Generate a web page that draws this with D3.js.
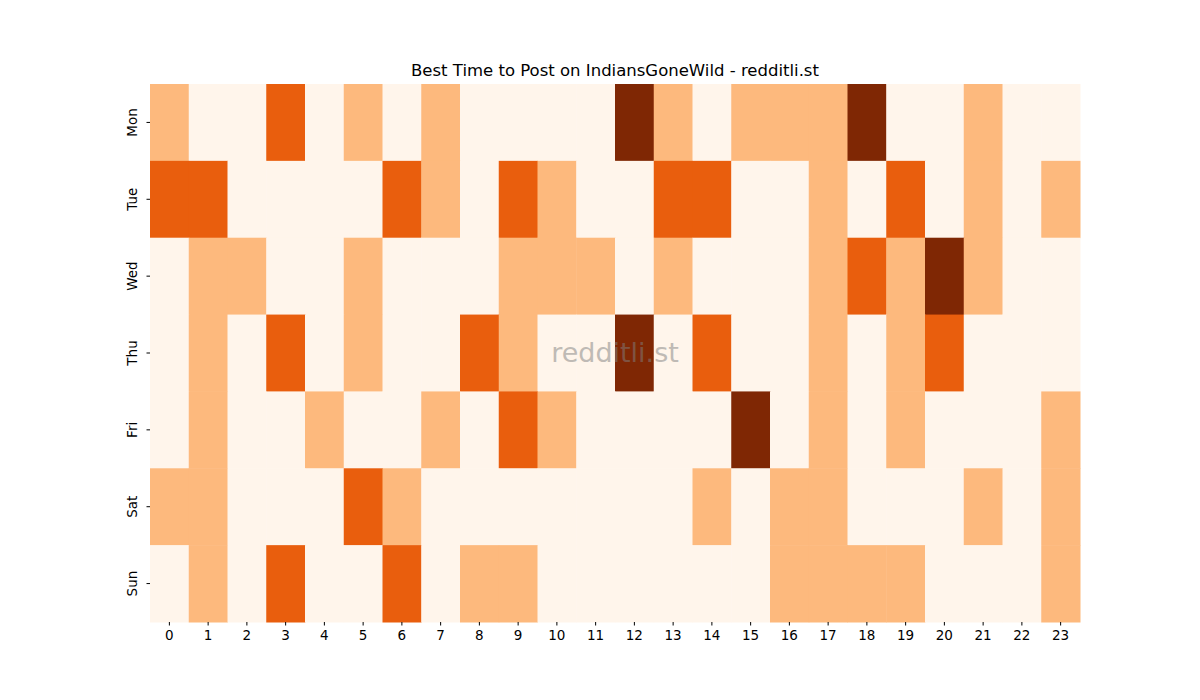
<!DOCTYPE html>
<html>
<head>
<meta charset="utf-8">
<script src="https://cdn.jsdelivr.net/npm/d3@7"></script>
<style>
  body { margin: 0; background: #fff; }
  text { font-family: "DejaVu Sans", sans-serif; }
</style>
</head>
<body>
<svg id="chart" width="1200" height="700"></svg>
<script>
// Data
const days = ["Mon", "Tue", "Wed", "Thu", "Fri", "Sat", "Sun"];
const hours = d3.range(24);

// levels per hour 0..23 for each day (0 = lowest, 3 = highest)
const mon = [1,0,0,2,0,1,0,1,0,0,0,0,3,1,0,1,1,1,3,0,0,1,0,0];
const tue = [2,2,0,0,0,0,2,1,0,2,1,0,0,2,2,0,0,1,0,2,0,1,0,1];
const wed = [0,1,1,0,0,1,0,0,0,1,1,1,0,1,0,0,0,1,2,1,3,1,0,0];
const thu = [0,1,0,2,0,1,0,0,2,1,0,0,3,0,2,0,0,1,0,1,2,0,0,0];
const fri = [0,1,0,0,1,0,0,1,0,2,1,0,0,0,0,3,0,1,0,1,0,0,0,1];
const sat = [1,1,0,0,0,2,1,0,0,0,0,0,0,0,1,0,1,1,0,0,0,1,0,1];
const sun = [0,1,0,2,0,0,2,0,1,1,0,0,0,0,0,0,1,1,1,1,0,0,0,1];
const rows = [mon, tue, wed, thu, fri, sat, sun];

const cells = [];
rows.forEach((r, i) => r.forEach((v, h) => cells.push({ day: days[i], hour: h, value: v })));

// Layout
const margin = { top: 84, right: 120, bottom: 78, left: 150 };
const width = 1200 - margin.left - margin.right;
const height = 700 - margin.top - margin.bottom;

const svg = d3.select("#chart");
const g = svg.append("g").attr("transform", `translate(${margin.left},${margin.top})`);

const x = d3.scaleBand().domain(hours).range([0, width]);
const y = d3.scaleBand().domain(days).range([0, height]);
const color = d3.scaleOrdinal().domain([0, 1, 2, 3])
    .range(["#fff5eb", "#fdb97d", "#e95e0d", "#7f2704"]);

g.selectAll("rect")
    .data(cells)
    .join("rect")
    .attr("x", d => x(d.hour))
    .attr("y", d => y(d.day))
    .attr("width", x.bandwidth() + 0.5)
    .attr("height", y.bandwidth() + 0.5)
    .attr("fill", d => color(d.value));

// Axes
const xAxis = g.append("g")
    .attr("transform", `translate(0,${height})`)
    .call(d3.axisBottom(x).tickSize(3.5).tickPadding(5));
xAxis.select(".domain").remove();
xAxis.selectAll("text").style("font-size", "13.5px").attr("fill", "#000");

const yAxis = g.append("g")
    .call(d3.axisLeft(y).tickSize(3.5).tickPadding(5));
yAxis.select(".domain").remove();
yAxis.selectAll("text")
    .style("font-size", "13.5px")
    .attr("fill", "#000")
    .attr("text-anchor", "middle")
    .attr("transform", "rotate(-90)")
    .attr("x", 0)
    .attr("y", -15)
    .attr("dy", "0.32em");
// put rotated labels at tick position
yAxis.selectAll(".tick text").attr("transform", "rotate(-90)").attr("x", 0).attr("y", -17);

// Title
svg.append("text")
    .attr("x", margin.left + width / 2)
    .attr("y", 76)
    .attr("text-anchor", "middle")
    .style("font-size", "16.5px")
    .text("Best Time to Post on IndiansGoneWild - redditli.st");

// Watermark
svg.append("text")
    .attr("x", margin.left + width / 2)
    .attr("y", margin.top + height / 2 + 9)
    .attr("text-anchor", "middle")
    .style("font-size", "27px")
    .attr("fill", "#808080")
    .attr("opacity", 0.5)
    .text("redditli.st");
</script>
</body>
</html>
